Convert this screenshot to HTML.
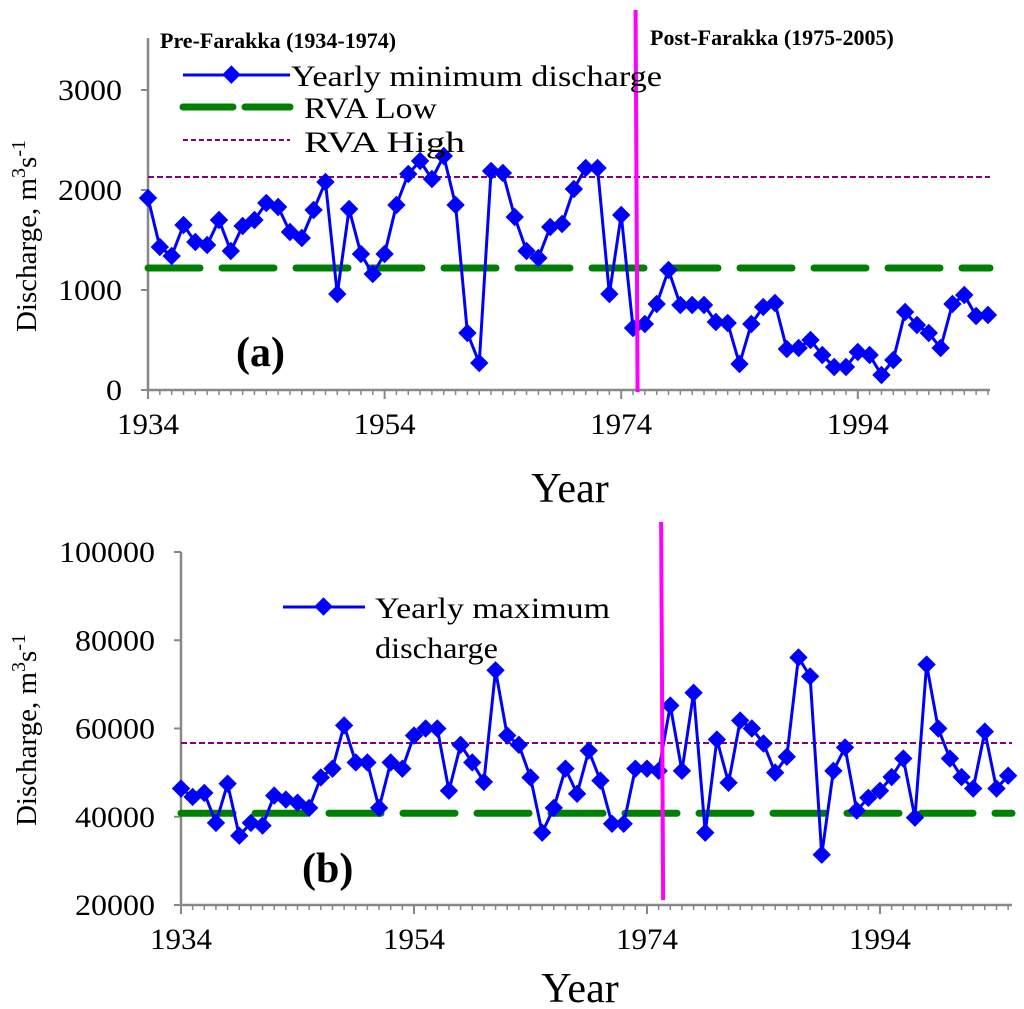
<!DOCTYPE html>
<html><head><meta charset="utf-8">
<style>
html,body{margin:0;padding:0;background:#fff;}
svg{display:block;font-family:"Liberation Serif",serif;}
</style></head>
<body>
<svg id="chart" width="1024" height="1009" viewBox="0 0 1024 1009" xmlns="http://www.w3.org/2000/svg">
  <g id="pa"></g>
  <g id="pb"></g>

  <text x="160" y="48" font-size="22" font-weight="bold">Pre-Farakka (1934-1974)</text>
  <text x="650" y="45" font-size="22" font-weight="bold">Post-Farakka (1975-2005)</text>

  <g>
    <line x1="183" y1="75" x2="290" y2="75" stroke="#0000ff" stroke-width="3"/>
    <rect x="227" y="66" width="13" height="13" fill="#0000ff" transform="rotate(45 233.5 72.5) translate(0 3)"/>
    <text x="291" y="86" font-size="30" textLength="371" lengthAdjust="spacingAndGlyphs">Yearly minimum discharge</text>
    <line x1="183" y1="107" x2="290" y2="107" stroke="#008000" stroke-width="7" stroke-dasharray="50 12" stroke-linecap="round"/>
    <text x="304" y="118" font-size="30" textLength="133" lengthAdjust="spacingAndGlyphs">RVA Low</text>
    <line x1="183" y1="140" x2="290" y2="140" stroke="#800080" stroke-width="2" stroke-dasharray="5 3"/>
    <text x="304" y="152" font-size="30" textLength="161" lengthAdjust="spacingAndGlyphs">RVA High</text>
  </g>
  <text x="236" y="366" font-size="42" font-weight="bold">(a)</text>

  <g>
    <line x1="283" y1="607" x2="365" y2="607" stroke="#0000ff" stroke-width="3"/>
    <rect x="317" y="600" width="13" height="13" fill="#0000ff" transform="rotate(45 323.5 606.5)"/>
    <text x="375" y="618" font-size="30" textLength="235" lengthAdjust="spacingAndGlyphs">Yearly maximum</text>
    <text x="375" y="658" font-size="30" textLength="123" lengthAdjust="spacingAndGlyphs">discharge</text>
  </g>
  <text x="302" y="882" font-size="42" font-weight="bold">(b)</text>
</svg>
<script>
const years = [];
for (let y = 1934; y <= 2005; y++) years.push(y);
const minDischarge = [1920,1430,1340,1650,1480,1450,1700,1390,1640,1700,1870,1830,1580,1520,1800,2080,960,1810,1360,1160,1360,1850,2160,2290,2110,2340,1850,570,270,2190,2170,1730,1390,1320,1630,1660,2010,2220,2220,960,1750,620,660,860,1200,850,850,850,680,670,260,660,830,870,410,420,500,350,230,230,380,350,150,300,780,650,570,420,860,950,740,750];
const maxDischarge = [46400,44500,45400,38600,47500,35700,38600,38000,44800,43900,43200,42000,48900,50900,60700,52300,52300,42000,52300,50900,58400,60000,60000,45900,56300,52300,47900,73200,58400,56300,48900,36400,42000,50900,45200,55000,48200,38400,38400,50900,50900,50400,65200,50400,68100,36400,57500,47700,61800,60000,56600,50000,53600,76100,71800,31400,50400,55700,41400,44300,45900,49000,53200,39800,74500,60000,53200,49000,46400,59300,46400,49300];
const rvaA = [1220, 2130];
const rvaB = [40800, 56700];
const yTicksA = [0,1000,2000,3000];
const yTicksB = [20000,40000,60000,80000,100000];
const xTickLabels = [1934,1954,1974,1994];
const damYear = [1975.3];

const NS = "http://www.w3.org/2000/svg";
function mk(tag, attrs, parent){const e=document.createElementNS(NS,tag);for(const k in attrs)e.setAttribute(k,attrs[k]);parent.appendChild(e);return e;}

function panel(g, cfg){
  const xs = v => cfg.x0 + (v-1934)*cfg.xs;
  const ys = v => cfg.y0 - (v-cfg.vmin)*cfg.ys;
  const ya = mk('line',{x1:cfg.x0,y1:cfg.ytop,x2:cfg.x0,y2:cfg.y0,stroke:'#888','stroke-width':2.5},g);
  
  
  const xa = mk('line',{x1:cfg.x0,y1:cfg.y0,x2:cfg.xend,y2:cfg.y0,stroke:'#888','stroke-width':2.5},g);
  
  
  cfg.yt.forEach(v=>{
    mk('line',{x1:cfg.x0-7,y1:ys(v),x2:cfg.x0,y2:ys(v),stroke:'#888','stroke-width':2},g);
    const t=mk('text',{x:cfg.x0-26,y:ys(v)+10,'font-size':30,'text-anchor':'end',textLength:String(v).length*16,lengthAdjust:'spacingAndGlyphs'},g);
    t.textContent=v;
    
    
  });
  years.forEach(yr=>{
    const maj = xTickLabels.includes(yr);
    mk('line',{x1:xs(yr),y1:cfg.y0,x2:xs(yr),y2:cfg.y0+(maj?9:5),stroke:'#888','stroke-width':maj?2:1.5},g);
  });
  xTickLabels.forEach(v=>{
    const t=mk('text',{x:xs(v),y:cfg.y0+44,'font-size':30,'text-anchor':'middle',textLength:62,lengthAdjust:'spacingAndGlyphs'},g);
    t.textContent=v;
    
    
  });
  const xt=mk('text',{x:cfg.xtitle,y:cfg.y0+cfg.xtdy,'font-size':42,'text-anchor':'middle'},g);
  xt.textContent='Year';
  
  
  const yt=mk('text',{x:0,y:0,'font-size':29,'text-anchor':'middle',transform:`translate(${cfg.ytx},${cfg.yty}) rotate(-90)`},g);
  yt.innerHTML='Discharge, m<tspan dy="-11" font-size="20">3</tspan><tspan dy="11">s</tspan><tspan dy="-11" font-size="20">-1</tspan>';
  
  
  const lo=mk('line',{x1:xs(1934),y1:ys(cfg.rva[0]),x2:cfg.xend,y2:ys(cfg.rva[0]),stroke:'#008000','stroke-width':7,'stroke-dasharray':'52 22','stroke-linecap':'round'},g);
  
  
  const hi=mk('line',{x1:xs(1934),y1:ys(cfg.rva[1]),x2:cfg.xend,y2:ys(cfg.rva[1]),stroke:'#800080','stroke-width':2,'stroke-dasharray':'6 3'},g);
  
  
  const pts = cfg.data.map((v,i)=>xs(years[i])+','+ys(v)).join(' ');
  const pl=mk('polyline',{points:pts,fill:'none',stroke:'#0000ff','stroke-width':3},g);
  
  
  cfg.data.forEach((v,i)=>{
    const cx=xs(years[i]), cy=ys(v);
    const r=mk('rect',{x:cx-6.5,y:cy-6.5,width:13,height:13,fill:'#0000ff',transform:`rotate(45 ${cx} ${cy})`},g);
    
    
  });
  const dx = xs(damYear[0]);
  const dl=mk('line',{x1:dx-1,y1:cfg.dtop,x2:dx+1,y2:cfg.dbot,stroke:'#ff00ff','stroke-width':4},g);
  
  
}

panel(document.getElementById('pa'),{x0:148,xs:11.83,y0:390,vmin:0,ys:0.1,ytop:38,xend:990,yt:yTicksA,rva:rvaA,data:minDischarge,xtitle:570,xtdy:112,ytx:36,yty:236,dtop:10,dbot:392});
panel(document.getElementById('pb'),{x0:181,xs:11.65,y0:905,vmin:20000,ys:353/80000,ytop:552,xend:1012,yt:yTicksB,rva:rvaB,data:maxDischarge,xtitle:580,xtdy:97,ytx:36,yty:730,dtop:522,dbot:900});
</script>
</body></html>
